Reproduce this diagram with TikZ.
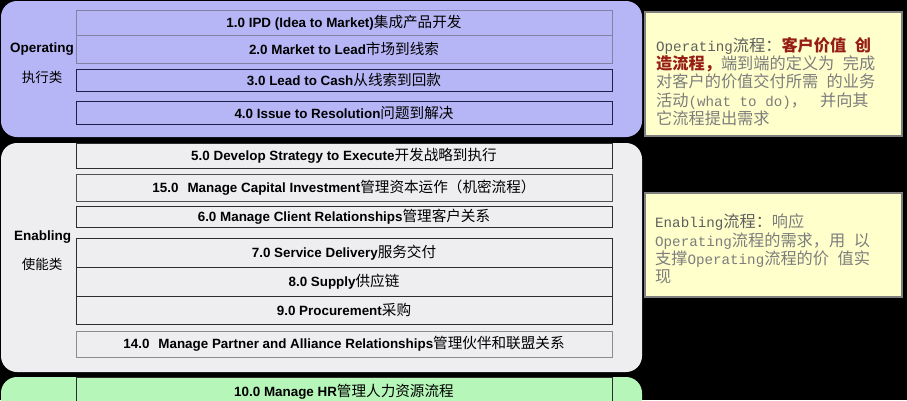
\documentclass[tikz,border=0pt]{standalone}
\usepackage{fontspec}
\setmainfont{Liberation Sans}
\newfontfamily\cjk{Noto Sans CJK SC}
\newfontfamily\monofont{Liberation Mono}

\definecolor{oppanel}{RGB}{182,182,246}
\definecolor{enpanel}{RGB}{238,237,240}
\definecolor{hrpanel}{RGB}{182,246,184}
\definecolor{notefill}{RGB}{255,255,204}
\definecolor{noteline}{RGB}{128,128,128}
\definecolor{notetxt}{RGB}{125,125,125}
\definecolor{notehead}{RGB}{95,95,95}
\definecolor{notered}{RGB}{150,30,20}
\definecolor{oplight}{RGB}{130,130,165}
\definecolor{opdark}{RGB}{30,30,75}
\definecolor{endark}{RGB}{45,45,45}
\definecolor{enmid}{RGB}{80,80,80}
\definecolor{enlight}{RGB}{140,140,140}

% Chinese text inside the process boxes and the notes
\newcommand{\zh}[1]{{\cjk\mdseries\fontsize{14.6}{16}\selectfont #1}}
\newcommand{\zn}[1]{{\cjk\fontsize{16.2}{18.3}\selectfont #1}}

\begin{document}
\begin{tikzpicture}[x=1pt, y=-1pt,
    procbox/.style={draw, line width=1pt, minimum width=536pt, inner sep=0pt,
      font=\bfseries\fontsize{13.4}{16}\selectfont},
    sidelabel/.style={font=\bfseries\fontsize{13.5}{16}\selectfont},
    sidecjk/.style={font=\cjk\fontsize{13.5}{16}\selectfont},
    notebox/.style={draw=noteline, line width=2pt, fill=notefill, minimum width=257pt},
    notetext/.style={anchor=north west, inner sep=0pt, align=left, text=notetxt,
      font=\monofont\fontsize{14.2}{18.3}\selectfont}]

    % Draw background
    \useasboundingbox (0,0) rectangle (907,400);
    \clip (0,0) rectangle (907,400);
    \fill[black] (0,0) rectangle (907,400);

    % Draw the three panels
    \fill[oppanel, rounded corners=16pt] (1,1) rectangle (642,137);
    \fill[enpanel, rounded corners=16pt] (1,143) rectangle (642,372);
    \fill[hrpanel, rounded corners=16pt] (1,377) rectangle (642,430);

    % Operating processes
    \node[procbox, draw=oplight, minimum height=25pt] (ipd) at (344,22.5) {1.0 IPD (Idea to Market)\zh{集成产品开发}};
    \node[procbox, draw=oplight, minimum height=28pt] (mtl) at (344,49) {2.0 Market to Lead\zh{市场到线索}};
    \node[procbox, draw=opdark, minimum height=22pt] (ltc) at (344,80) {3.0 Lead to Cash\zh{从线索到回款}};
    \node[procbox, draw=opdark, minimum height=23pt] (itr) at (344,112.5) {4.0 Issue to Resolution\zh{问题到解决}};

    % Enabling processes
    \node[procbox, draw=endark, minimum height=25pt] (dse) at (344,155.5) {5.0 Develop Strategy to Execute\zh{开发战略到执行}};
    \node[procbox, draw=enmid, minimum height=27pt] (mci) at (344,187.5) {15.0\hspace{9pt}Manage Capital Investment\zh{管理资本运作（机密流程）}};
    \node[procbox, draw=endark, minimum height=21pt] (mcr) at (344,216.5) {6.0 Manage Client Relationships\zh{管理客户关系}};
    \node[procbox, draw=endark, minimum height=29pt] (sd) at (344,252.5) {7.0 Service Delivery\zh{服务交付}};
    \node[procbox, draw=endark, minimum height=29pt] (sup) at (344,281.5) {8.0 Supply\zh{供应链}};
    \node[procbox, draw=endark, minimum height=28pt] (proc) at (344,310) {9.0 Procurement\zh{采购}};
    \node[procbox, draw=enlight, minimum height=26pt] (mpar) at (344,344) {14.0\hspace{9pt}Manage Partner and Alliance Relationships\zh{管理伙伴和联盟关系}};

    % Supporting process
    \node[procbox, draw=endark, minimum height=30pt] (hr) at (344,392) {10.0 Manage HR\zh{管理人力资源流程}};

    % Labels on the left
    \node[sidelabel] (oplabel) at (42,49) {Operating};
    \node[sidecjk] (opcjk) at (42,77) {执行类};
    \node[sidelabel] (enlabel) at (42.5,237) {Enabling};
    \node[sidecjk] (encjk) at (42,264) {使能类};

    % Notes on the right
    \node[notebox, minimum height=124pt] (opnote) at (773.5,74) {};
    \node[notetext] (optext) at (656,37) {%
      {\color{notehead}Operating\zn{流程：}}{\color{notered}\zn{\bfseries 客户价值} \zn{\bfseries 创}}\\
      {\color{notered}\zn{\bfseries 造流程，}}\zn{端到端的定义为} \zn{完成}\\
      \zn{对客户的价值交付所需} \zn{的业务}\\
      \zn{活动}(what to do)\zn{，}\hspace{13pt}\zn{并向其}\\
      \zn{它流程提出需求}};
    \node[notebox, minimum height=104pt] (ennote) at (773.5,245) {};
    \node[notetext] (entext) at (655,214) {%
      {\color{notehead}Enabling\zn{流程：}}\zn{响应}\\
      Operating\zn{流程的需求，用} \zn{以}\\
      \zn{支撑}Operating\zn{流程的价} \zn{值实}\\
      \zn{现}};
\end{tikzpicture}
\end{document}
